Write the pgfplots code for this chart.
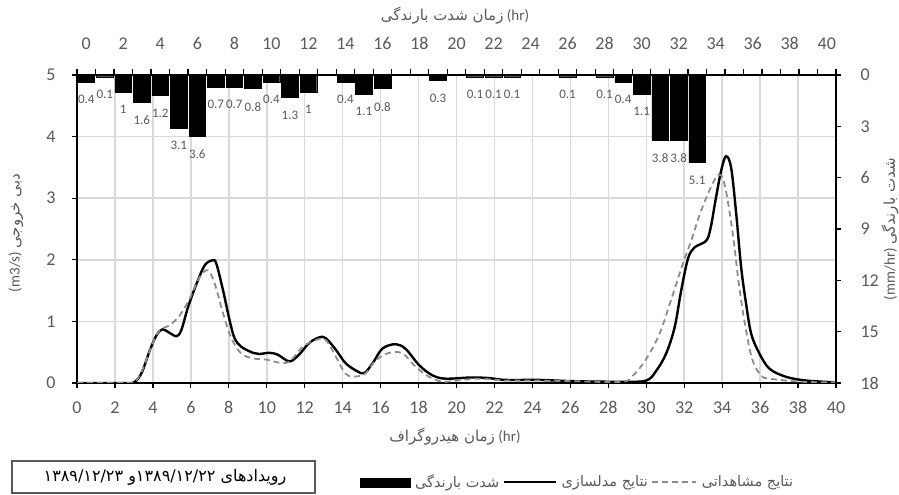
\documentclass[border=0pt]{standalone}
\usepackage{fontspec}
\setmainfont{Carlito}
\newfontfamily\fa[Script=Arabic]{DejaVu Sans}
\TeXXeTstate=1
\usepackage{pgfplots}
\usepackage{pgfplotstable}
\pgfplotsset{compat=1.18}
\definecolor{txt}{HTML}{595959}
\definecolor{grd}{HTML}{D9D9D9}
\definecolor{obs}{HTML}{8C8C8C}

\pgfplotstableread{
x y
0 0.4
1 0.1
2 1
3 1.6
4 1.2
5 3.1
6 3.6
7 0.7
8 0.7
9 0.8
10 0.4
11 1.3
12 1
14 0.4
15 1.1
16 0.8
19 0.3
21 0.1
22 0.1
23 0.1
26 0.1
28 0.1
29 0.4
30 1.1
31 3.8
32 3.8
33 5.1
}\rain

\pgfplotstableread{
x y
0 0
2.5 0
3.0 0.01
3.4 0.16
3.85 0.54
4.2 0.78
4.5 0.87
4.9 0.81
5.25 0.76
5.5 0.86
5.86 1.24
6.3 1.61
6.73 1.91
7.13 1.99
7.34 1.94
7.7 1.5
8.04 1.02
8.3 0.73
8.65 0.59
9.27 0.49
9.6 0.47
10.14 0.49
10.58 0.46
11.2 0.35
11.7 0.46
12.24 0.65
12.76 0.74
13.1 0.73
13.64 0.54
14.16 0.32
14.77 0.19
15.14 0.16
15.58 0.32
16.1 0.56
16.8 0.63
17.33 0.55
18.03 0.29
18.7 0.13
19.4 0.07
20.8 0.09
21.7 0.08
22.6 0.05
24.35 0.05
26.1 0.03
28.7 0.02
30 0.04
30.53 0.2
31.05 0.48
31.5 0.91
31.84 1.5
32.2 2.02
32.54 2.2
33.16 2.31
33.4 2.53
33.68 3.02
33.95 3.45
34.2 3.68
34.47 3.5
34.74 2.75
35 1.88
35.26 1.29
35.53 0.8
35.96 0.48
36.5 0.23
37.37 0.1
38.42 0.04
40 0.01
}\sim

\pgfplotstableread{
x y
0 0
2.5 0
3.0 0.01
3.4 0.18
4.0 0.65
4.37 0.86
4.9 0.94
5.42 1.1
5.94 1.37
6.47 1.72
6.9 1.83
7.26 1.61
7.7 1.13
8.13 0.73
8.65 0.48
9.27 0.40
9.97 0.38
10.66 0.33
11.2 0.35
11.9 0.59
12.6 0.70
13.1 0.70
13.64 0.43
14.0 0.22
14.35 0.11
15.14 0.14
15.75 0.37
16.46 0.49
17.16 0.48
17.86 0.26
18.56 0.10
19.26 0.02
20 0.04
21.2 0.07
22.6 0.04
24.35 0.04
26.1 0.03
28.7 0.02
29.3 0.12
30 0.39
30.7 0.8
31.3 1.34
31.93 1.94
32.37 2.31
32.8 2.72
33.25 3.07
33.68 3.34
33.95 3.37
34.2 3.12
34.56 2.42
34.9 1.56
35.26 0.85
35.6 0.37
36.05 0.12
36.5 0.07
38.2 0.02
40 0.01
}\obsv

\begin{document}
\begin{tikzpicture}[x=1bp,y=1bp]
\useasboundingbox (-77,-112) rectangle (822,383);
% main axis: discharge
\begin{axis}[
  at={(0bp,0bp)}, anchor=south west,
  scale only axis, width=759bp, height=308bp,
  xmin=0, xmax=40, ymin=0, ymax=5,
  axis x line*=bottom, axis y line*=left,
  xtick={0,2,...,40}, ytick={0,1,...,5},
  grid=major, grid style={grd, line width=1.5bp},
  tick align=outside, major tick length=5bp,
  tick style={black, line width=1.2bp},
  axis line style={black, line width=1.6bp},
  /pgf/number format/assume math mode=true,
  ticklabel style={font=\fontsize{18bp}{20bp}\selectfont, text=txt},
  xticklabel style={yshift=-10bp},
  yticklabel style={xshift=-13bp},
  legend columns=3,
  legend style={at={(rel axis cs:0.3729,-0.3214)}, anchor=west, draw=none, fill=none,
    inner sep=0pt, font=\fa\fontsize{14.5bp}{16bp}\selectfont, text=txt,
    nodes={inner sep=1.5bp},
    /tikz/every even column/.append style={column sep=2bp},
    /tikz/every odd column/.append style={column sep=3bp}},
  legend cell align=left,
]
\addlegendimage{legend image code/.code={\fill[black] (0bp,-5bp) rectangle (50bp,4bp);}}
\addlegendentry{\beginR شدت بارندگی\endR}
\addplot[black, line width=2.4bp, smooth, tension=0.55,
  legend image code/.code={\draw[black, line width=2.4bp] (0bp,0bp) -- (52bp,0bp);}]
  table[x=x, y=y] {\sim};
\addlegendentry{\beginR نتایج مدلسازی\endR}
\addplot[obs, line width=1.8bp, dash pattern=on 6bp off 4bp, smooth, tension=0.55,
  legend image code/.code={\draw[obs, line width=1.8bp, dash pattern=on 6bp off 4bp] (0bp,0bp) -- (44bp,0bp);}]
  table[x=x, y=y] {\obsv};
\addlegendentry{\beginR نتایج مشاهداتی\endR}
\end{axis}
% secondary axis: rainfall
\begin{axis}[
  at={(0bp,0bp)}, anchor=south west,
  scale only axis, width=759bp, height=308bp,
  xmin=-0.5, xmax=40.5, ymin=0, ymax=18, y dir=reverse,
  axis x line*=top, axis y line*=right,
  xtick={0,2,...,40}, minor xtick={-0.5,0.5,...,40.5},
  ytick={0,3,...,18},
  tick align=outside, major tick length=5bp, minor tick length=6bp,
  tick style={black, line width=1.2bp},
  major x tick style={draw=none},
  axis line style={black, line width=1.6bp},
  /pgf/number format/assume math mode=true,
  ticklabel style={font=\fontsize{18bp}{20bp}\selectfont, text=txt},
  xticklabel style={anchor=base, yshift=20bp},
  yticklabel style={xshift=16bp},
  ybar, bar width=0.9, bar shift=0pt,
  nodes near coords,
  every node near coord/.append style={anchor=north, yshift=-10bp,
    font=\fontsize{13bp}{14bp}\selectfont, text=txt},
]
\addplot[fill=black, draw=black] table[x=x, y=y] {\rain};
\end{axis}
% axis titles
\node[text=txt, font=\fontsize{15bp}{17bp}\selectfont] at (378,367) {{\fa\beginR زمان شدت بارندگی\endR}\ (hr)};
\node[text=txt, font=\fontsize{15bp}{17bp}\selectfont] at (378,-54) {{\fa\beginR زمان هیدروگراف\endR}\ (hr)};
\node[text=txt, font=\fontsize{15bp}{17bp}\selectfont, rotate=90] at (-61,150) {(m3/s)\ {\fa\beginR دبی خروجی\endR}};
\node[text=txt, font=\fontsize{15bp}{17bp}\selectfont, rotate=90] at (813,154) {(mm/hr)\ {\fa\beginR شدت بارندگی\endR}};
% event box
\draw[txt, line width=1.3bp] (-65,-78) rectangle (238,-110);
\node[font=\fa\fontsize{16bp}{18bp}\selectfont] at (88,-94) {\beginR رویدادهای \beginL۱۳۸۹/۱۲/۲۲\endL و \beginL۱۳۸۹/۱۲/۲۳\endL\endR};
\end{tikzpicture}
\end{document}
